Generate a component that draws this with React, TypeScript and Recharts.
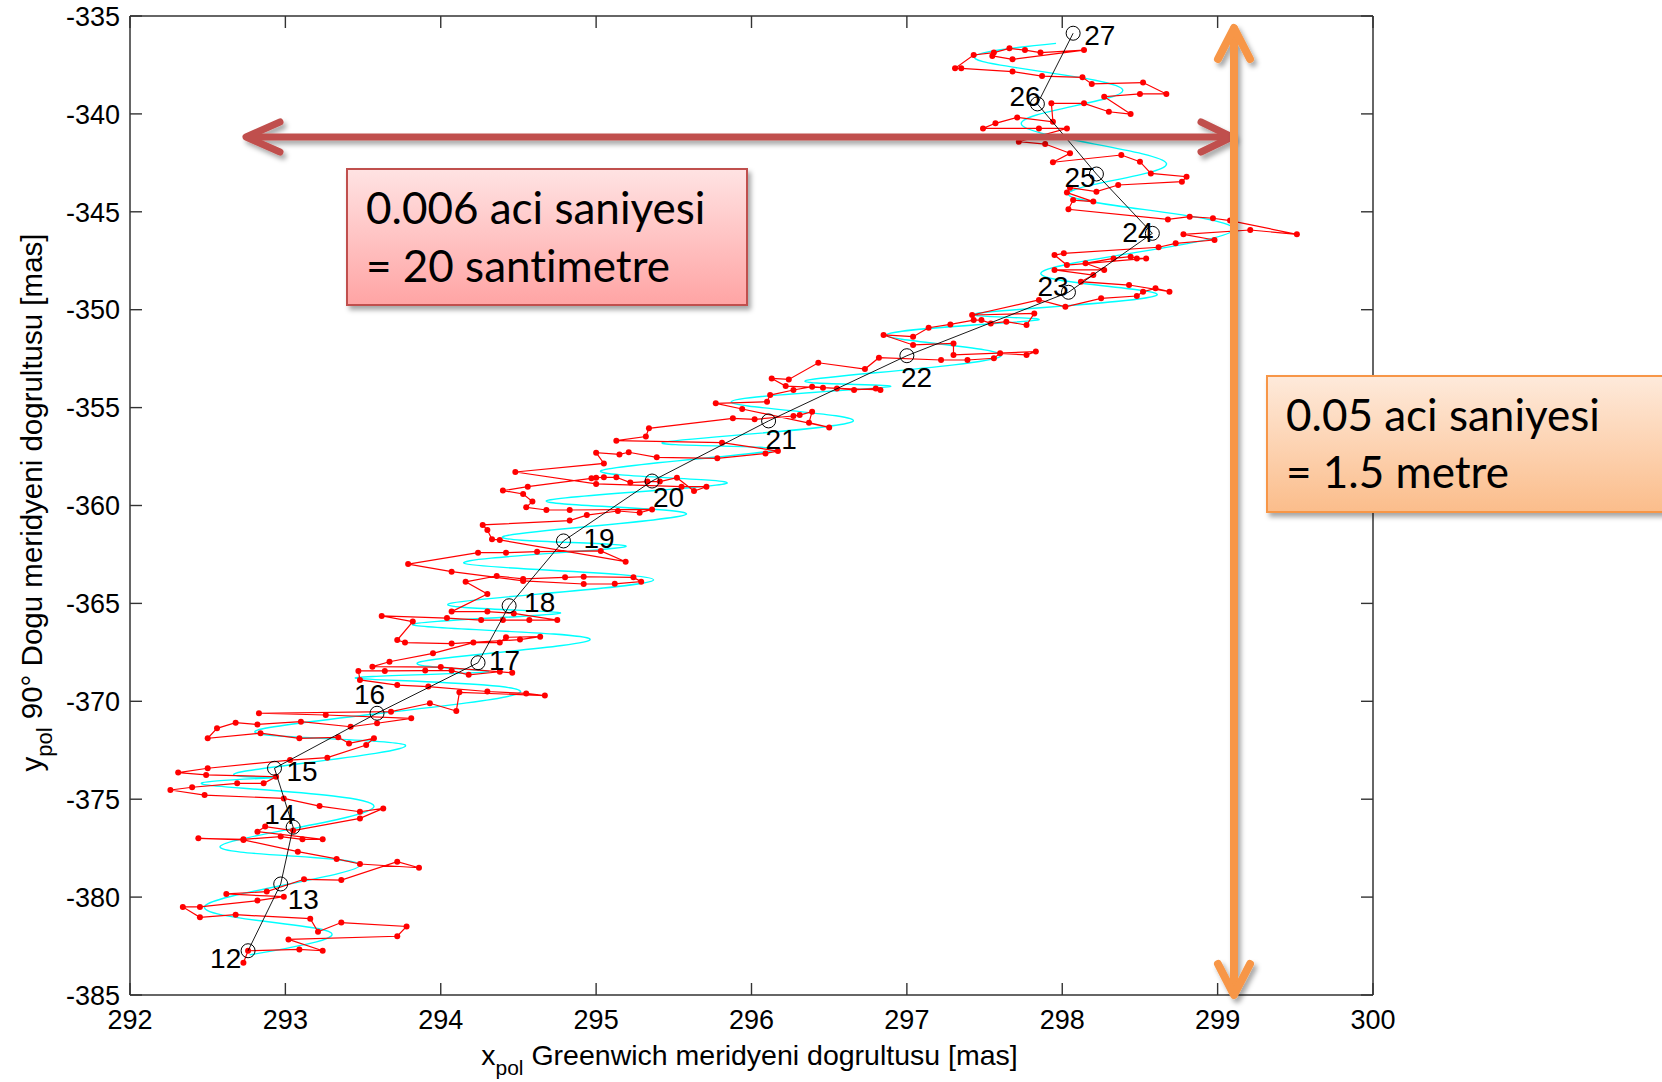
import React from 'react';
import { ScatterChart, Scatter, XAxis, YAxis, Label } from 'recharts';

// ---------- axis ticks ----------
const X_TICKS = [292, 293, 294, 295, 296, 297, 298, 299, 300];
const Y_TICKS = [-385, -380, -375, -370, -365, -360, -355, -350, -345, -340, -335];

// ---------- daily pole positions (black circles) ----------
const POLE_DAYS = [12, 13, 14, 15, 16, 17, 18, 19, 20, 21, 22, 23, 24, 25, 26, 27];
const POLE_X = [292.76, 292.97, 293.05, 292.93, 293.59, 294.24, 294.44, 294.79, 295.36, 296.11, 297.0, 298.04, 298.58, 298.22, 297.84, 298.07];
const POLE_Y = [-382.74, -379.33, -376.43, -373.42, -370.61, -368.03, -365.12, -361.81, -358.75, -355.68, -352.35, -349.11, -346.1, -343.07, -339.49, -335.88];

// ---------- model curve (cyan) ----------
const CYAN_TRACK: [number, number][] = [
  [292.77, -382.95], [293.25, -381.68], [292.49, -380.4], [293.48, -378.36], [292.58, -377.42],
  [293.57, -375.38], [292.49, -374.27], [292.95, -373.9], [292.72, -373.6], [293.77, -372.23],
  [292.82, -371.47], [294.5, -369.6], [293.46, -368.83], [294.3, -368.5], [293.87, -367.98],
  [294.96, -366.82], [293.82, -366.1], [294.77, -365.5], [294.06, -365.0], [295.37, -363.8],
  [294.15, -362.95], [295.19, -362.1], [294.4, -361.59], [295.58, -360.45], [294.68, -359.76],
  [295.84, -358.87], [295.03, -358.23], [296.16, -357.16], [295.43, -356.78], [296.65, -355.72],
  [295.87, -354.7], [296.89, -353.93], [296.36, -353.6], [297.6, -352.4], [296.87, -351.29],
  [297.84, -350.53], [297.45, -350.19], [298.61, -349.25], [297.87, -348.06], [299.1, -345.93],
  [298.05, -344.2], [298.67, -342.52], [297.74, -340.57], [298.39, -338.8], [297.49, -337.33],
  [297.96, -336.4],
];

// ---------- observed track (red) ----------
const RED_TRACK: [number, number][] = [
  [292.73, -383.35], [292.76, -382.74], [293.09, -382.67], [293.24, -382.74], [293.02, -382.16],
  [293.72, -382.0], [293.78, -381.5], [293.36, -381.3], [293.21, -381.77], [293.16, -381.1],
  [292.68, -380.9], [292.45, -381.03], [292.34, -380.5], [292.45, -380.5], [292.82, -380.18],
  [292.99, -379.98], [292.62, -379.84], [292.88, -379.72], [293.12, -379.09], [293.36, -379.13],
  [293.72, -378.19], [293.86, -378.5], [293.48, -378.31], [293.33, -378.05], [293.08, -377.68],
  [292.73, -377.08], [292.44, -377.0],
  [292.73, -377.05], [292.97, -376.91], [293.11, -377.05], [293.24, -377.05], [292.82, -376.66],
  [292.87, -376.4], [293.05, -376.6], [293.48, -375.98], [293.63, -375.47], [293.48, -375.64],
  [293.22, -375.35], [292.99, -374.96], [292.48, -374.79], [292.26, -374.53], [292.4, -374.39],
  [292.69, -374.19], [292.86, -374.19], [292.94, -373.85], [292.49, -373.76], [292.31, -373.64],
  [292.5, -373.42], [293.03, -373.0], [293.27, -372.88], [293.52, -372.23], [293.57, -371.89],
  [293.41, -372.15], [293.34, -371.84], [293.09, -371.89], [292.84, -371.63], [292.5, -371.89],
  [292.56, -371.38], [292.68, -371.09], [292.82, -371.18], [293.1, -371.04], [293.42, -371.3],
  [293.59, -371.12], [293.81, -370.87], [293.26, -370.7], [292.83, -370.61], [293.68, -370.53],
  [293.93, -370.1], [294.1, -370.5], [294.12, -369.54],
  [294.67, -369.71], [294.55, -369.6], [294.3, -369.5], [293.92, -369.25], [293.72, -369.17],
  [293.48, -368.91], [293.47, -368.45], [293.64, -368.45], [293.9, -368.43], [294.07, -368.43],
  [294.18, -368.65], [294.38, -368.49], [294.46, -368.54], [294.0, -368.25], [293.56, -368.23],
  [293.67, -367.98], [293.95, -367.55], [294.21, -367.0], [294.38, -367.0], [294.42, -366.73],
  [294.64, -366.7], [294.51, -366.85], [294.07, -367.05], [293.77, -367.0], [293.72, -366.87],
  [293.82, -365.93], [293.62, -365.64], [294.04, -365.75], [294.26, -365.85], [294.4, -365.85],
  [294.57, -365.85], [294.75, -365.85], [294.47, -365.51], [294.3, -365.42], [294.07, -365.42],
  [294.3, -364.52], [294.16, -363.9], [294.36, -363.6], [294.53, -363.75], [294.8, -363.67],
  [294.92, -363.64], [295.24, -363.67], [295.29, -363.89], [295.12, -364.0], [294.92, -364.01],
  [294.53, -363.85], [294.07, -363.38], [293.79, -362.99], [294.24, -362.41], [294.42, -362.41],
  [294.62, -362.36], [295.03, -362.32], [295.19, -362.87], [294.38, -361.76], [294.33, -361.73],
  [294.3, -361.25], [294.27, -360.99], [294.83, -360.77], [294.94, -360.49], [295.14, -360.28],
  [295.28, -360.37], [295.36, -360.2], [294.83, -360.23], [294.68, -360.23], [294.55, -360.09],
  [294.59, -359.8], [294.53, -359.41], [294.4, -359.24], [294.56, -359.04], [294.97, -358.61],
  [295.0, -358.58], [295.05, -358.56], [295.13, -358.56], [295.22, -358.83], [295.33, -358.78],
  [295.41, -358.78], [295.52, -358.58], [295.63, -359.26], [295.71, -359.04], [295.55, -359.04],
  [295.0, -358.9], [294.48, -358.29],
  [295.05, -357.85], [295.0, -357.3], [295.15, -357.39], [295.21, -357.28], [295.39, -357.54],
  [295.78, -357.59], [296.09, -357.34], [296.17, -357.22], [295.81, -356.79], [295.13, -356.69],
  [295.32, -356.48], [295.34, -356.06], [295.88, -355.55], [296.02, -355.6], [296.27, -355.43],
  [296.31, -355.38], [296.39, -355.21], [296.37, -355.77], [296.5, -356.01], [295.94, -355.07],
  [295.77, -354.78], [296.1, -354.7], [296.12, -354.36], [296.27, -354.1], [296.39, -353.93],
  [296.46, -353.98], [296.55, -354.02], [296.66, -354.1], [296.8, -354.02], [296.83, -354.1],
  [296.22, -353.9], [296.13, -353.51], [296.24, -353.56], [296.43, -352.71], [296.73, -353.03],
  [296.82, -352.45], [297.22, -352.57], [297.39, -352.57], [297.56, -352.48], [297.6, -352.23],
  [297.77, -352.31], [297.83, -352.14], [297.3, -352.31], [297.3, -351.72], [297.04, -351.8],
  [296.85, -351.29], [297.04, -351.38], [297.14, -350.92], [297.28, -350.75], [297.43, -350.53],
  [297.48, -350.53], [297.54, -350.7], [297.64, -350.61], [297.77, -350.78],
  [297.82, -350.19], [297.42, -350.27], [297.85, -349.5], [298.02, -349.85], [298.25, -349.42],
  [298.48, -349.3], [298.52, -349.08], [298.6, -348.91], [298.69, -349.08], [298.43, -348.74],
  [298.12, -348.57], [298.2, -348.23], [297.95, -347.97], [298.27, -347.97], [298.15, -347.63],
  [298.33, -347.38], [298.44, -347.29], [298.48, -347.38], [298.54, -347.38], [298.03, -347.72],
  [297.95, -347.21], [298.01, -347.12], [298.62, -346.81], [298.73, -346.61], [298.98, -346.44],
  [298.78, -346.15], [299.21, -345.93], [299.51, -346.15], [299.08, -345.45], [298.97, -345.33],
  [298.82, -345.25], [298.68, -345.39], [298.04, -344.87], [298.07, -344.4], [298.2, -344.48],
  [298.03, -344.02], [298.05, -343.77], [298.22, -343.97], [298.36, -343.63], [298.77, -343.46],
  [298.8, -343.21], [298.57, -343.04], [298.5, -342.44], [298.38, -342.1], [297.94, -342.47],
  [298.05, -342.01], [297.89, -341.54], [297.72, -341.42], [298.03, -340.74], [297.85, -340.74],
  [297.49, -340.74], [297.57, -340.48], [297.71, -340.18], [297.94, -340.4], [297.93, -339.46],
  [298.14, -339.46], [298.3, -339.89], [298.44, -340.01], [298.27, -339.12], [298.5, -338.98],
  [298.67, -338.98], [298.52, -338.4], [298.19, -338.47], [298.13, -338.13], [297.87, -338.07],
  [297.68, -337.84], [297.35, -337.67], [297.31, -337.67], [297.43, -336.99], [297.56, -336.87],
  [297.66, -336.65], [297.76, -336.74], [297.86, -336.87], [298.14, -336.74], [297.68, -337.21],
  [297.55, -337.04],
];

// ---------- label placement (pixel offsets from circle: text left, baseline) ----------
const LABEL_OFFSET: Record<number, [number, number]> = {
  12: [-38, 17], 13: [7, 25], 14: [-29, -3], 15: [12, 13], 16: [-23, -9], 17: [11, 7],
  18: [15, 6], 19: [20, 7], 20: [1, 26], 21: [-3, 28], 22: [-6, 31], 23: [-31, 4],
  24: [-30, 9], 25: [-32, 13], 26: [-28, 2], 27: [11, 12],
};

const poleData = POLE_DAYS.map((d, i) => ({ x: POLE_X[i], y: POLE_Y[i], day: d }));
const redData = RED_TRACK.map(([x, y]) => ({ x, y }));
const cyanData = CYAN_TRACK.map(([x, y]) => ({ x, y }));

const FONT = '"Liberation Sans", Arial, Helvetica, sans-serif';
const BOX_FONT = 'Lato, "Open Sans", sans-serif';
const AXIS_COLOR = '#333333';
const TICK_LEN = 12;
const TICK_FS = 27;

const BottomTick = (p: any) => (
  <g>
    <line x1={p.x} y1={p.y} x2={p.x} y2={p.y - TICK_LEN} stroke={AXIS_COLOR} strokeWidth={1.4} />
    <text x={p.x} y={p.y + 34} textAnchor="middle" fontSize={TICK_FS} fontFamily={FONT} fill="#000">
      {p.payload.value}
    </text>
  </g>
);
const LeftTick = (p: any) => (
  <g>
    <line x1={p.x} y1={p.y} x2={p.x + TICK_LEN} y2={p.y} stroke={AXIS_COLOR} strokeWidth={1.4} />
    <text x={p.x - 10} y={p.y} dy="0.36em" textAnchor="end" fontSize={TICK_FS} fontFamily={FONT} fill="#000">
      {p.payload.value}
    </text>
  </g>
);
const TopTick = (p: any) => (
  <line x1={p.x} y1={p.y} x2={p.x} y2={p.y + TICK_LEN} stroke={AXIS_COLOR} strokeWidth={1.4} />
);
const RightTick = (p: any) => (
  <line x1={p.x} y1={p.y} x2={p.x - TICK_LEN} y2={p.y} stroke={AXIS_COLOR} strokeWidth={1.4} />
);

const XLabel = (p: any) => {
  const vb = p.viewBox;
  return (
    <text x={vb.x + vb.width / 2 - 2} y={vb.y + 70} textAnchor="middle" fontSize={28.5} fontFamily={FONT} fill="#000">
      x<tspan dy={10} fontSize={21}>pol</tspan>
      <tspan dy={-10}> Greenwich meridyeni dogrultusu [mas]</tspan>
    </text>
  );
};
const YLabel = (p: any) => {
  const vb = p.viewBox;
  const cx = 42;
  const cy = vb.y + vb.height / 2 - 3;
  return (
    <text x={cx} y={cy} transform={`rotate(-90 ${cx} ${cy})`} textAnchor="middle" fontSize={29.5} fontFamily={FONT} fill="#000">
      y<tspan dy={10} fontSize={22}>pol</tspan>
      <tspan dy={-10}> 90° Dogu meridyeni dogrultusu [mas]</tspan>
    </text>
  );
};

const RedDot = (p: any) => <circle cx={p.cx} cy={p.cy} r={3} fill="#ff0000" />;
const NoDot = () => <g />;
const PoleMark = (p: any) => {
  const day = p.payload.day;
  const off = LABEL_OFFSET[day] || [10, 10];
  return (
    <g>
      <circle cx={p.cx} cy={p.cy} r={7} fill="none" stroke="#000" strokeWidth={1} />
      <text x={p.cx + off[0]} y={p.cy + off[1]} fontSize={28} fontFamily={FONT} fill="#000">
        {day}
      </text>
    </g>
  );
};

const Annotations = () => (
  <svg width={1662} height={1082} style={{ position: 'absolute', left: 0, top: 0, pointerEvents: 'none' }}>
    <defs>
      <linearGradient id="gRed" x1="0" y1="0" x2="0" y2="1">
        <stop offset="0" stopColor="#ffe3e3" />
        <stop offset="1" stopColor="#ffa4a4" />
      </linearGradient>
      <linearGradient id="gOrange" x1="0" y1="0" x2="0" y2="1">
        <stop offset="0" stopColor="#feeadb" />
        <stop offset="1" stopColor="#fbbd8b" />
      </linearGradient>
      <filter id="shadow" filterUnits="userSpaceOnUse" x="0" y="0" width="1662" height="1082">
        <feDropShadow dx="3" dy="4" stdDeviation="2.5" floodColor="#000" floodOpacity="0.35" />
      </filter>
    </defs>
    <g filter="url(#shadow)" stroke="#c0504d" strokeWidth={7} strokeLinecap="round" strokeLinejoin="round" fill="none">
      <line x1={248} y1={137} x2={1230} y2={137} />
      <polyline points="280,122 246,137 280,152" />
      <polyline points="1201,122 1232,137 1201,152" />
    </g>
    <g filter="url(#shadow)" stroke="#f79646" strokeWidth={8} strokeLinecap="round" strokeLinejoin="round" fill="none">
      <line x1={1234} y1={29} x2={1234} y2={993} />
      <polyline points="1218,59 1234,28 1250,59" />
      <polyline points="1218,964 1234,995 1250,964" />
    </g>
    <g filter="url(#shadow)">
      <rect x={347} y={169} width={400} height={136} fill="url(#gRed)" stroke="#c0504d" strokeWidth={2} />
      <rect x={1267} y={376} width={430} height={136} fill="url(#gOrange)" stroke="#f79646" strokeWidth={2} />
    </g>
    <g fontFamily={BOX_FONT} fontSize={44} fill="#000" style={{ fontVariantLigatures: 'none' }}>
      <text x={366} y={224}>0.006 aci saniyesi</text>
      <text x={366} y={282}>= 20 santimetre</text>
      <text x={1286} y={431}>0.05 aci saniyesi</text>
      <text x={1286} y={488}>= 1.5 metre</text>
    </g>
  </svg>
);

export default function App() {
  return (
    <div style={{ position: 'absolute', left: 0, top: 0, width: 1662, height: 1082, background: '#fff' }}>
      <ScatterChart width={1662} height={1082} margin={{ top: 15, right: 288, bottom: 27, left: 30 }}>
        <XAxis
          dataKey="x"
          type="number"
          domain={[292, 300]}
          ticks={X_TICKS}
          interval={0}
          allowDataOverflow
          height={60}
          tickSize={0}
          tickMargin={0}
          tickLine={false}
          tick={BottomTick}
          axisLine={{ stroke: AXIS_COLOR, strokeWidth: 1.5 }}
        >
          <Label content={XLabel} />
        </XAxis>
        <XAxis
          xAxisId="top"
          orientation="top"
          dataKey="x"
          type="number"
          domain={[292, 300]}
          ticks={X_TICKS}
          interval={0}
          allowDataOverflow
          height={1}
          tickSize={0}
          tickMargin={0}
          tickLine={false}
          tick={TopTick}
          axisLine={{ stroke: AXIS_COLOR, strokeWidth: 1.5 }}
        />
        <YAxis
          dataKey="y"
          type="number"
          domain={[-385, -335]}
          ticks={Y_TICKS}
          interval={0}
          allowDataOverflow
          width={100}
          tickSize={0}
          tickMargin={0}
          tickLine={false}
          tick={LeftTick}
          axisLine={{ stroke: AXIS_COLOR, strokeWidth: 1.5 }}
        >
          <Label content={YLabel} />
        </YAxis>
        <YAxis
          yAxisId="right"
          orientation="right"
          dataKey="y"
          type="number"
          domain={[-385, -335]}
          ticks={Y_TICKS}
          interval={0}
          allowDataOverflow
          width={1}
          tickSize={0}
          tickMargin={0}
          tickLine={false}
          tick={RightTick}
          axisLine={{ stroke: AXIS_COLOR, strokeWidth: 1.5 }}
        />
        <Scatter
          data={cyanData}
          line={{ stroke: '#00ffff', strokeWidth: 1.4 }}
          lineJointType="natural"
          shape={NoDot}
          isAnimationActive={false}
        />
        <Scatter
          data={redData}
          line={{ stroke: '#ff0000', strokeWidth: 1.2 }}
          lineJointType="linear"
          shape={RedDot}
          isAnimationActive={false}
        />
        <Scatter
          data={poleData}
          line={{ stroke: '#000000', strokeWidth: 0.9 }}
          lineJointType="linear"
          shape={PoleMark}
          isAnimationActive={false}
        />
      </ScatterChart>
      <Annotations />
    </div>
  );
}
